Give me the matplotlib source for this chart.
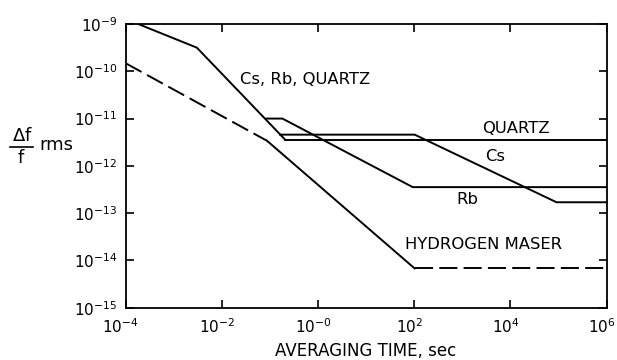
import matplotlib
matplotlib.use("Agg")
import matplotlib.pyplot as plt
import matplotlib.transforms as mtransforms
from matplotlib.lines import Line2D
from matplotlib.ticker import FixedLocator, FixedFormatter, NullLocator

plt.rcParams["font.family"] = ["DejaVu Sans"]
plt.rcParams["lines.scale_dashes"] = False

# common steep section (Cs, Rb, quartz)
common_tau = [10**-3.74, 10**-2.52, 10**-0.68]
common_sig = [1e-9, 10**-9.5, 10**-11.45]

quartz_tau = [10**-0.68, 1e6]
quartz_sig = [10**-11.45, 10**-11.45]

cs_tau = [10**-0.79, 10**2.01, 10**4.96, 1e6]
cs_sig = [10**-11.34, 10**-11.34, 10**-12.77, 10**-12.77]

rb_tau = [10**-1.07, 10**-0.74, 10**1.97, 1e6]
rb_sig = [1e-11, 1e-11, 10**-12.45, 10**-12.45]

# hydrogen maser: dashed / solid / dashed
hm_dash1_tau = [1e-4, 10**-1.06]
hm_dash1_sig = [10**-9.83, 10**-11.47]
hm_solid_tau = [10**-1.06, 10**2.01]
hm_solid_sig = [10**-11.47, 10**-14.17]
hm_dash2_tau = [10**2.01, 1e6]
hm_dash2_sig = [10**-14.17, 10**-14.17]

x_ticks = [1e-4, 1e-2, 1e0, 1e2, 1e4, 1e6]
x_labels = ["$10^{-4}$", "$10^{-2}$", "$10^{-0}$", "$10^{2}$", "$10^{4}$", "$10^{6}$"]
y_ticks = [1e-15, 1e-14, 1e-13, 1e-12, 1e-11, 1e-10, 1e-9]
y_labels = ["$10^{-15}$", "$10^{-14}$", "$10^{-13}$", "$10^{-12}$",
            "$10^{-11}$", "$10^{-10}$", "$10^{-9}$"]

W, H = 617, 360
fig = plt.figure(figsize=(W / 100, H / 100), dpi=100)
ax = fig.add_axes([0.2037, 0.1453, 0.7793, 0.788])

lw = 1.4
kw = dict(color="black", lw=lw, solid_joinstyle="miter")
ax.plot(common_tau, common_sig, **kw)
ax.plot(quartz_tau, quartz_sig, **kw)
ax.plot(cs_tau, cs_sig, **kw)
ax.plot(rb_tau, rb_sig, **kw)
ax.plot(hm_solid_tau, hm_solid_sig, **kw)
ax.plot(hm_dash1_tau, hm_dash1_sig, color="black", lw=lw, dashes=(13, 4.5))
ax.plot(hm_dash2_tau, hm_dash2_sig, color="black", lw=lw, dashes=(13, 4.5))

ax.set_xscale("log")
ax.set_yscale("log")
ax.set_xlim(1e-4, 1e6)
ax.set_ylim(1e-15, 1e-9)

ax.xaxis.set_major_locator(FixedLocator(x_ticks))
ax.xaxis.set_major_formatter(FixedFormatter(x_labels))
ax.yaxis.set_major_locator(FixedLocator(y_ticks))
ax.yaxis.set_major_formatter(FixedFormatter(y_labels))
ax.xaxis.set_minor_locator(NullLocator())
ax.yaxis.set_minor_locator(NullLocator())
ax.tick_params(which="major", direction="in", length=6, width=1.2,
               top=True, right=True, labelsize=11)
ax.tick_params(axis="x", pad=7)
ax.tick_params(axis="y", pad=6)
for sp in ax.spines.values():
    sp.set_linewidth(1.3)

# x tick labels sit a little left of their ticks
shift = mtransforms.ScaledTranslation(-5 / 100, 0, fig.dpi_scale_trans)
for lab in ax.get_xticklabels():
    lab.set_transform(lab.get_transform() + shift)

ax.set_xlabel("AVERAGING TIME, sec", fontsize=12, labelpad=4)

# y axis label: delta f over f, rms
def fx(px):
    return px / W

def fy(py):
    return 1 - py / H

fig.text(fx(22), fy(145), r"$\Delta$f", fontsize=13, ha="center", va="bottom")
fig.add_artist(Line2D([fx(10), fx(33)], [fy(147), fy(147)], color="black", lw=1.2))
fig.text(fx(21), fy(149), "f", fontsize=13, ha="center", va="top")
fig.text(fx(39), fy(150), "rms", fontsize=13, ha="left", va="baseline")

tkw = dict(fontsize=11.8, va="center")
ax.text(10**-1.62, 10**-10.18, "Cs, Rb, QUARTZ", **tkw)
ax.text(10**3.42, 10**-11.2, "QUARTZ", **tkw)
ax.text(10**3.48, 10**-11.81, "Cs", **tkw)
ax.text(10**2.88, 10**-12.72, "Rb", **tkw)
ax.text(10**1.81, 10**-13.67, "HYDROGEN MASER", **tkw)

fig.savefig("out.png", dpi=100)
